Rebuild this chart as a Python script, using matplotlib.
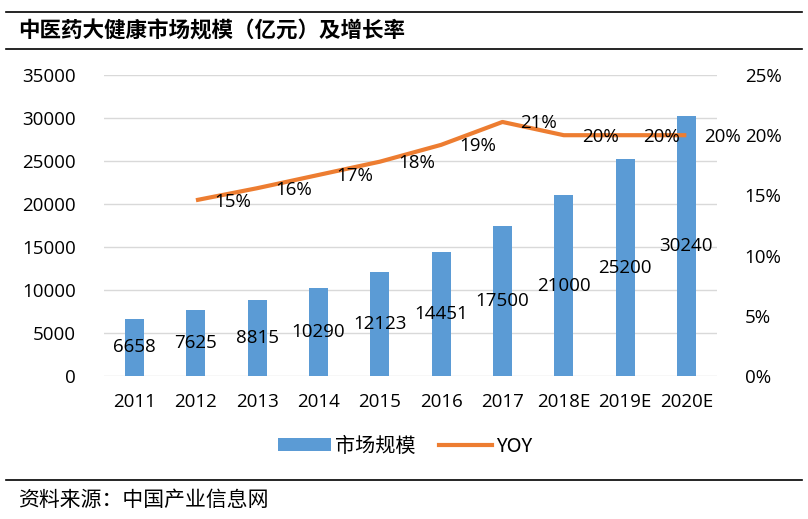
import matplotlib
matplotlib.use("Agg")
import matplotlib.pyplot as plt
from matplotlib.lines import Line2D
from matplotlib.patches import Patch
import numpy as np

categories = ["2011", "2012", "2013", "2014", "2015", "2016", "2017", "2018E", "2019E", "2020E"]
market_size = [6658, 7625, 8815, 10290, 12123, 14451, 17500, 21000, 25200, 30240]
yoy_years = ["2012", "2013", "2014", "2015", "2016", "2017", "2018E", "2019E", "2020E"]
yoy_values = [0.146, 0.156, 0.167, 0.178, 0.192, 0.211, 0.200, 0.200, 0.200]
left_ticks = [0, 5000, 10000, 15000, 20000, 25000, 30000, 35000]
right_ticks = [0, 0.05, 0.10, 0.15, 0.20, 0.25]

title = "中医药大健康市场规模（亿元）及增长率"
source = "资料来源：中国产业信息网"
legend_bar = "市场规模"
legend_line = "YOY"

LAT = ["Open Sans", "Noto Sans CJK SC"]
CJK = ["Noto Sans CJK SC", "DejaVu Sans"]
plt.rcParams["font.family"] = LAT

BLUE = "#5B9BD5"
ORANGE = "#ED7D31"
GRID = "#D9D9D9"

fig = plt.figure(figsize=(8.08, 5.19), dpi=100)
ax = fig.add_axes([104/808, 1-376/519, (717-104)/808, (376-75)/519])
x = np.arange(len(categories))
ax.bar(x, market_size, width=0.31, color=BLUE, zorder=2)
ax.set_xlim(-0.5, len(categories)-0.5)
ax.set_ylim(0, 35000)
ax.set_yticks(left_ticks)
ax.set_yticklabels([str(t) for t in left_ticks], fontsize=13.5)
ax.set_xticks(x)
ax.set_xticklabels(categories, fontsize=13.5)
ax.tick_params(axis="both", length=0)
ax.tick_params(axis="y", pad=20)
ax.tick_params(axis="x", pad=12)
ax.grid(axis="y", color=GRID, linewidth=1, zorder=0)
for s in ax.spines.values():
    s.set_visible(False)
for xi, v in zip(x, market_size):
    ax.text(xi, v/2, str(v), ha="center", va="center", fontsize=13.5, zorder=4)

ax2 = ax.twinx()
ax2.set_ylim(0, 0.25)
ax2.set_yticks(right_ticks)
ax2.set_yticklabels([f"{int(round(t*100))}%" for t in right_ticks], fontsize=13.5)
ax2.tick_params(axis="y", length=0, pad=20)
for s in ax2.spines.values():
    s.set_visible(False)
lx = [categories.index(c) for c in yoy_years]
ax2.plot(lx, yoy_values, color=ORANGE, linewidth=3, solid_joinstyle="round",
         solid_capstyle="butt", zorder=3)
for xi, v in zip(lx, yoy_values):
    ax2.annotate(f"{int(np.floor(v*100+0.5))}%", (xi, v), xytext=(13, -1),
                 textcoords="offset points", ha="left", va="center", fontsize=13.5, zorder=5)

# legend
handles = [Patch(facecolor=BLUE, edgecolor="none"),
           Line2D([0], [0], color=ORANGE, linewidth=3)]
fig.legend(handles, [legend_bar, legend_line], loc="center",
           bbox_to_anchor=(405/808, 1-446/519), ncol=2, frameon=False,
           handlelength=2.6, handleheight=0.6, columnspacing=1.2,
           handletextpad=0.2, prop={"family": CJK, "size": 14.5})

# title, lines, source
fig.add_artist(Line2D([0.007, 0.993], [1-12/519]*2, color="black", linewidth=1.2))
fig.add_artist(Line2D([0.007, 0.993], [1-49/519]*2, color="black", linewidth=1.2))
fig.add_artist(Line2D([0.007, 0.993], [1-480/519]*2, color="black", linewidth=1.2))
fig.text(18/808, 1-31/519, title, ha="left", va="center", fontsize=15.5,
         fontweight="bold", family=CJK)
fig.text(18/808, 1-500/519, source, ha="left", va="center", fontsize=15,
         family=CJK)

fig.savefig("out.png", dpi=100)
